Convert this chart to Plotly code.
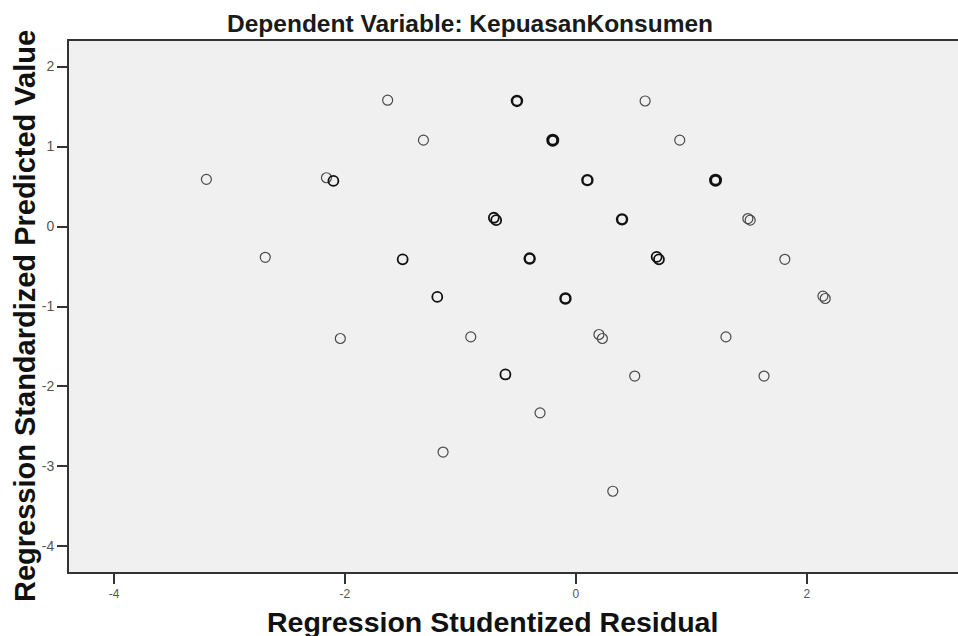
import plotly.graph_objects as go

# Data (studentized residual vs standardized predicted value)
resid = [-3.20, -2.69, -1.63, -1.32, -2.16, -2.10, -2.04, -0.91, -1.15,
         0.60, 0.90, 1.81, 0.20, 0.23, 1.30, 0.51, 1.63, -0.31, 0.32,
         1.49, 1.51, 2.14, 2.16,
         -0.51, -0.20, 0.10, 1.21, -0.71, -0.69, 0.40, -0.40, 0.70, 0.72,
         -0.09, -1.50, -1.20, -0.61]
pred = [0.59, -0.385, 1.58, 1.08, 0.61, 0.57, -1.40, -1.38, -2.82,
        1.57, 1.08, -0.41, -1.35, -1.40, -1.38, -1.87, -1.87, -2.33, -3.31,
        0.10, 0.08, -0.87, -0.90,
        1.57, 1.08, 0.58, 0.58, 0.11, 0.08, 0.09, -0.40, -0.38, -0.41,
        -0.90, -0.41, -0.88, -1.85]
# number of overlapping cases at each marker (drives the drawn ring thickness)
overlap = [1, 1, 1, 1, 1, 2, 1, 1, 1,
           1, 1, 1, 1, 1, 1, 1, 1, 1, 1,
           1, 1, 1, 1,
           3, 4, 3, 4, 2, 2, 3, 3, 2, 2,
           3, 2, 2, 2]

x_ticks = [-4, -2, 0, 2]
x_tick_text = ["-4", "-2", "0", "2"]
y_ticks = [2, 1, 0, -1, -2, -3, -4]
y_tick_text = ["2", "1", "0", "-1", "-2", "-3", "-4"]

title_text = "Dependent Variable: KepuasanKonsumen"
x_title = "Regression Studentized Residual"
y_title = "Regression Standardized Predicted Value"

line_w = [1.2 + 0.6 * (c - 1) for c in overlap]
line_c = ["#4a4a4a" if c == 1 else "#111111" for c in overlap]

fig = go.Figure()
fig.add_trace(go.Scatter(
    x=resid, y=pred, mode="markers",
    marker=dict(symbol="circle-open", size=10,
                color=line_c,
                line=dict(width=line_w, color=line_c)),
    hoverinfo="x+y", showlegend=False,
))

FONT = "Liberation Sans, Arial, sans-serif"

W, H = 958, 636
L, T, B, R = 69, 41, 636 - 572, 0

fig.update_layout(
    width=W, height=H,
    margin=dict(l=L, r=R, t=T, b=B, pad=0),
    paper_bgcolor="white", plot_bgcolor="#f0f0f0",
    font=dict(family=FONT, color="#222"),
    xaxis=dict(range=[-4.39, 3.31], tickvals=x_ticks, ticktext=x_tick_text,
               ticks="outside", ticklen=10, tickwidth=1.5, tickcolor="#333",
               showline=True, linecolor="#333", linewidth=2, mirror=True,
               showgrid=False, zeroline=False,
               tickfont=dict(size=12, color="#555", family=FONT)),
    yaxis=dict(range=[-4.32, 2.32], tickvals=y_ticks, ticktext=y_tick_text,
               ticks="outside", ticklen=10, tickwidth=1.5, tickcolor="#333",
               showline=True, linecolor="#333", linewidth=2,
               showgrid=False, zeroline=False,
               tickfont=dict(size=14, color="#555", family=FONT)),
)

pw = W - L - R
ph = H - T - B
def px(xp):
    return (xp - L) / pw
def py(yp):
    return (H - B - yp) / ph

fig.add_annotation(text="<b>" + title_text + "</b>", x=px(470), y=py(23),
                   xref="paper", yref="paper", xanchor="center", yanchor="middle",
                   showarrow=False, font=dict(size=24.5, color="#1a1a1a", family=FONT))
fig.add_annotation(text="<b>" + x_title + "</b>", x=px(492), y=py(622),
                   xref="paper", yref="paper", xanchor="center", yanchor="middle",
                   showarrow=False, font=dict(size=28.5, color="#111", family=FONT))
fig.add_annotation(text="<b>" + y_title + "</b>", x=px(25), y=py(316),
                   xref="paper", yref="paper", xanchor="center", yanchor="middle",
                   textangle=-90, showarrow=False,
                   font=dict(size=29, color="#111", family=FONT))

fig.write_html(
    "out.html",
    config={"displayModeBar": False},
    post_script="document.body.style.margin='0';document.body.style.overflow='hidden';",
)
